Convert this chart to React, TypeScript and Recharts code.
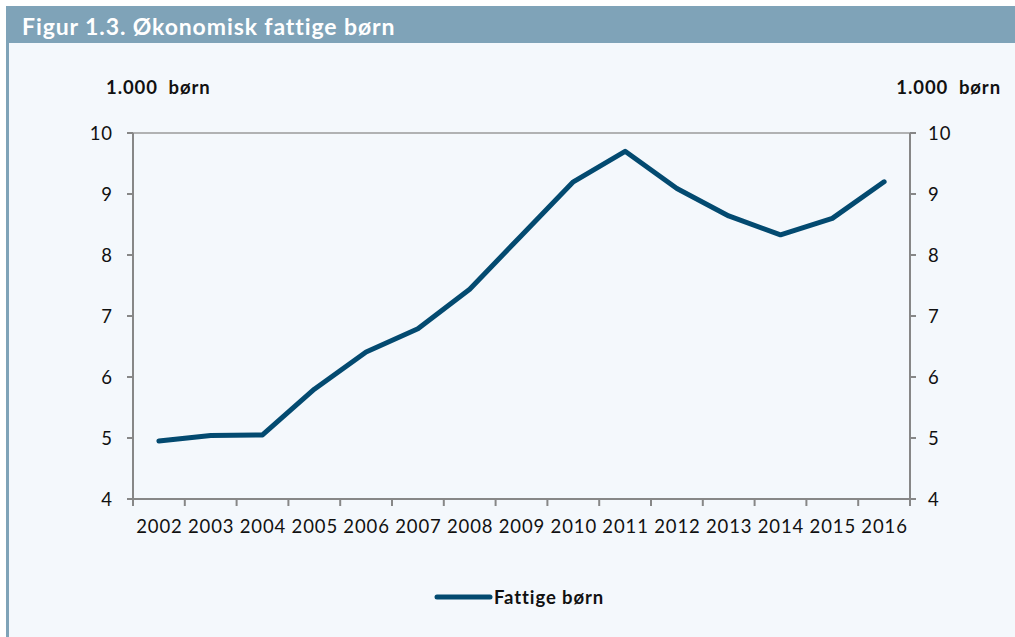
import React from 'react';
import {
  LineChart, Line, XAxis, YAxis, CartesianGrid, Legend, Label,
} from 'recharts';

const years = ['2002', '2003', '2004', '2005', '2006', '2007', '2008', '2009', '2010', '2011', '2012', '2013', '2014', '2015', '2016'];
const fattigeBoern = [4.95, 5.04, 5.05, 5.8, 6.41, 6.79, 7.44, 8.32, 9.2, 9.7, 9.09, 8.64, 8.33, 8.6, 9.2];
const yTicks = [4, 5, 6, 7, 8, 9, 10];
const unitLabel = '1.000\u00a0\u00a0børn';
const seriesName = 'Fattige børn';
const title = 'Figur 1.3. Økonomisk fattige børn';

const W = 1015;
const H = 637;
const LEFT_AXIS_W = 133;
const RIGHT_AXIS_W = 105;
const PLOT_W = W - LEFT_AXIS_W - RIGHT_AXIS_W;
const STEP = PLOT_W / years.length;

const FONT = 'Lato, "Open Sans", sans-serif';
const AXIS = '#878787';
const GRID = '#9b9b9b';
const LINE = '#034a70';
const BG = '#f4f8fc';
const BAR = '#7fa3b8';
const TICK_STYLE = { fill: '#111', fontSize: 18.5, fontFamily: FONT, letterSpacing: 0.9 };

const chartData = years.map((year, i) => ({ year, value: fattigeBoern[i] }));

function YearTick(props: any) {
  const { x, y, payload, index } = props;
  const left = x - STEP / 2;
  const last = index === years.length - 1;
  return (
    <g>
      <line x1={left} y1={y} x2={left} y2={y + 7} stroke={AXIS} strokeWidth={2} />
      {last && <line x1={x + STEP / 2} y1={y} x2={x + STEP / 2} y2={y + 7} stroke={AXIS} strokeWidth={2} />}
      <text x={x + 0.5} y={y + 34} textAnchor="middle" style={TICK_STYLE}>
        {payload.value}
      </text>
    </g>
  );
}

function UnitLabel({ viewBox, side }: any) {
  const x = side === 'left' ? viewBox.x + viewBox.width - 27 : viewBox.x + viewBox.width - 14;
  return (
    <text
      x={x}
      y={viewBox.y - 39}
      textAnchor={side === 'left' ? 'start' : 'end'}
      style={{ fill: '#111', fontSize: 18.5, fontWeight: 700, fontFamily: FONT, letterSpacing: 0.9 }}
    >
      {unitLabel}
    </text>
  );
}

function LegendContent({ payload }: any) {
  const item = (payload || []).find((p: any) => p.value === seriesName);
  return (
    <div style={{ width: W, height: 80, display: 'flex', alignItems: 'center', paddingLeft: 434, boxSizing: 'border-box' }}>
      <svg width={60} height={10} style={{ display: 'block' }}>
        <line x1={3} y1={5} x2={56} y2={5} stroke={LINE} strokeWidth={5} strokeLinecap="round" />
      </svg>
      <span style={{ fontFamily: FONT, fontWeight: 700, fontSize: 18.5, letterSpacing: 0.9, color: '#111' }}>
        {item ? item.value : seriesName}
      </span>
    </div>
  );
}

export default function App() {
  return (
    <div style={{ position: 'absolute', left: 0, top: 0, width: W, height: H, background: '#fff', overflow: 'hidden' }}>
      <div
        style={{
          position: 'absolute', left: 6, top: 43, width: W - 6 - 3, height: H - 43,
          background: BG, borderLeft: `3px solid ${BAR}`,
        }}
      />
      <div style={{ position: 'absolute', left: 0, top: 0 }}>
        <LineChart width={W} height={H} data={chartData} margin={{ top: 133, right: 0, bottom: 0, left: 0 }}>
          <CartesianGrid vertical={false} stroke={GRID} strokeWidth={1.5} />
          <XAxis
            dataKey="year"
            height={58}
            padding={{ left: STEP / 2, right: STEP / 2 }}
            axisLine={{ stroke: AXIS, strokeWidth: 2 }}
            tickLine={false}
            tickSize={0}
            tickMargin={0}
            interval={0}
            tick={<YearTick />}
          />
          <YAxis
            yAxisId="left"
            width={LEFT_AXIS_W}
            domain={[4, 10]}
            ticks={yTicks}
            axisLine={{ stroke: AXIS, strokeWidth: 2 }}
            tickLine={{ stroke: AXIS, strokeWidth: 2 }}
            tickSize={6}
            tickMargin={14}
            tick={TICK_STYLE}
          >
            <Label content={<UnitLabel side="left" />} />
          </YAxis>
          <YAxis
            yAxisId="right"
            orientation="right"
            width={RIGHT_AXIS_W}
            domain={[4, 10]}
            ticks={yTicks}
            axisLine={{ stroke: AXIS, strokeWidth: 2 }}
            tickLine={{ stroke: AXIS, strokeWidth: 2 }}
            tickSize={6}
            tickMargin={12}
            tick={TICK_STYLE}
          >
            <Label content={<UnitLabel side="right" />} />
          </YAxis>
          <Legend
            verticalAlign="bottom"
            wrapperStyle={{ left: 0, bottom: 0, width: W, height: 80 }}
            content={<LegendContent />}
          />
          {/* same series on the right axis, invisible, so that axis gets its scale */}
          <Line
            yAxisId="right"
            dataKey="value"
            stroke="none"
            dot={false}
            activeDot={false}
            legendType="none"
            isAnimationActive={false}
          />
          <Line
            yAxisId="left"
            type="linear"
            dataKey="value"
            name={seriesName}
            stroke={LINE}
            strokeWidth={5}
            strokeLinecap="round"
            strokeLinejoin="round"
            dot={false}
            activeDot={false}
            isAnimationActive={false}
          />
        </LineChart>
      </div>
      <div
        style={{
          position: 'absolute', left: 6, top: 6, width: W - 6, height: 37, background: BAR,
          color: '#fff', fontFamily: FONT, fontWeight: 700, fontSize: 23, letterSpacing: 0.9,
          lineHeight: '37px', paddingLeft: 16, paddingTop: 2, boxSizing: 'border-box',
        }}
      >
        {title}
      </div>
    </div>
  );
}
